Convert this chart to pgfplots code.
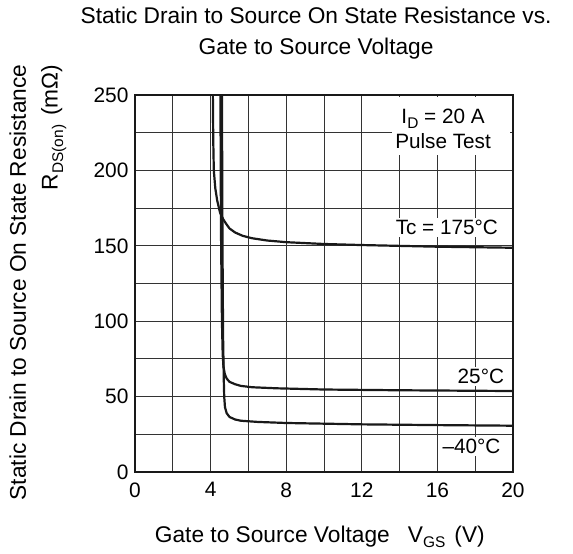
\documentclass[border=0pt]{standalone}
\usepackage{pgfplots}
\pgfplotsset{compat=1.18}
\usepackage{fontspec}
\setmainfont{Liberation Sans}
\newcommand\sub[1]{\raisebox{-0.45ex}{\fontsize{15.5}{16}\selectfont #1}}
\tikzset{curve/.style={black!90, line width=2.2bp, line join=round, no markers}}
\begin{document}
\begin{tikzpicture}
\useasboundingbox (-135bp,-82bp) rectangle (438bp,472bp);
\begin{axis}[
  width=378bp, height=377bp, scale only axis,
  xmin=0, xmax=20, ymin=0, ymax=250,
  xtick={0,4,...,20}, minor xtick={2,6,...,18},
  ytick={0,50,...,250}, minor ytick={25,75,...,225},
  grid=both,
  major grid style={line width=0.9bp, black!80},
  minor grid style={line width=0.9bp, black!80},
  major tick length=0pt, minor tick length=0pt,
  axis line style={line width=2.2bp, black!90},
  /pgf/number format/assume math mode=true,
  tick label style={font=\fontsize{21}{24}\selectfont},
  xticklabel style={yshift=-7bp},
  yticklabel style={xshift=-3bp},
  title={Static Drain to Source On State Resistance vs.\\[3bp]Gate to Source Voltage},
  title style={font=\fontsize{22.8}{28}\selectfont, align=center,
    at={(axis description cs:0.479,1.148)}, anchor=center},
  xlabel={Gate to Source Voltage\hspace{0.8em}V\sub{GS}\hspace{0.4em}(V)},
  xlabel style={font=\fontsize{22.8}{27}\selectfont,
    at={(axis description cs:0.489,-0.172)}, anchor=center},
  ylabel={Static Drain to Source On State Resistance\\[4bp]R\sub{DS(on)}\hspace{0.4em}(mΩ)},
  ylabel style={font=\fontsize{22.8}{28}\selectfont, align=right,
    at={(axis description cs:-0.257,1.09)}, anchor=east},
  clip=true,
]
% Tc = 175 C
\addplot[curve] coordinates {(4.12,250) (4.14,220) (4.17,200) (4.25,188) (4.35,180)
  (4.5,172) (4.65,168) (4.8,165) (5.0,161.5) (5.3,158.8) (5.7,156.6) (6.2,155)
  (7,153.5) (8,152.4) (10,151.2) (12,150.5) (16,149.4) (20,148.7)};
% 25 C
\addplot[curve] coordinates {(4.52,250) (4.55,160) (4.6,100) (4.64,78) (4.68,70)
  (4.75,65) (4.85,62) (5.0,59.8) (5.3,58.2) (5.6,57.1) (6.2,56.2) (7.5,55.5)
  (10,54.7) (14,54.2) (20,53.7)};
% -40 C
\addplot[curve] coordinates {(4.6,250) (4.63,150) (4.66,90) (4.7,60) (4.72,50)
  (4.76,43) (4.85,39) (5.0,36.5) (5.3,34.8) (5.6,34) (6.5,33.2) (8,32.5)
  (12,31.6) (16,31.1) (20,30.7)};

\fill[white] (axis cs:13.6,210.5) rectangle (axis cs:19.85,249);
\node[font=\fontsize{20.8}{24}\selectfont, align=center, inner sep=0pt]
  at (axis cs:16.3,227.5) {I\sub{D} = 20 A\\[1bp]Pulse Test};
\node[font=\fontsize{20.8}{24}\selectfont, fill=white, inner sep=2bp]
  at (axis cs:16.5,162) {Tc = 175°C};
\node[font=\fontsize{20.8}{24}\selectfont, fill=white, inner sep=2bp]
  at (axis cs:18.3,63.5) {25°C};
\node[font=\fontsize{20.8}{24}\selectfont, fill=white, inner sep=2bp]
  at (axis cs:17.8,17) {–40°C};
\end{axis}
\end{tikzpicture}
\end{document}
